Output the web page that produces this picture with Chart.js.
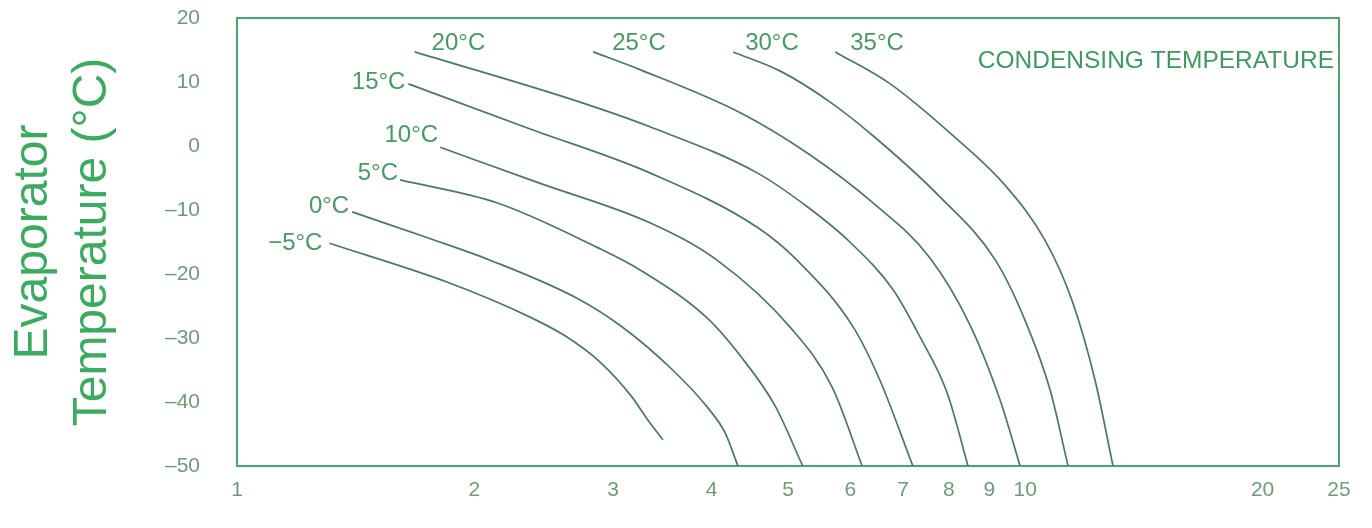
<!DOCTYPE html>
<html>
<head>
<meta charset="utf-8">
<script src="https://cdn.jsdelivr.net/npm/chart.js@4/dist/chart.umd.min.js"></script>
<style>
  html, body { margin: 0; padding: 0; background: #ffffff; }
  #wrap { width: 1372px; height: 528px; position: relative; }
</style>
</head>
<body>
<div id="wrap"><canvas id="chart"></canvas></div>
<script>
// condensing temperature curves: x = ratio (log axis), y = evaporator temperature
const curveNames = ["\u22125\u00b0C", "0\u00b0C", "5\u00b0C", "10\u00b0C", "15\u00b0C", "20\u00b0C", "25\u00b0C", "30\u00b0C", "35\u00b0C"];

const xMinus5 = [1.31, 1.85, 2.35, 2.61, 2.89, 3.16, 3.32, 3.47];
const yMinus5 = [-15.2, -21.3, -26.7, -29.7, -33.8, -39.0, -42.8, -45.9];
const x0 = [1.40, 1.76, 2.09, 2.70, 3.09, 3.57, 3.95, 4.16, 4.32];
const y0 = [-10.3, -14.5, -17.8, -23.8, -28.4, -35.0, -40.8, -44.8, -50];
const x5 = [1.61, 2.14, 2.86, 3.25, 3.95, 4.37, 4.81, 5.22];
const y5 = [-5.3, -8.9, -15.8, -19.4, -26.9, -33.1, -40.5, -50];
const x10 = [1.81, 2.42, 3.34, 4.06, 5.03, 5.69, 6.21];
const y10 = [-0.2, -5.8, -12.0, -17.8, -28.3, -37.7, -50];
const x15 = [1.65, 2.35, 3.34, 4.57, 5.13, 6.05, 6.54, 7.20];
const y15 = [9.7, 2.7, -4.2, -12.7, -17.8, -28.3, -36.6, -50];
const x20 = [1.68, 2.67, 3.34, 4.57, 5.29, 5.99, 6.80, 7.35, 7.96, 8.46];
const y20 = [14.7, 7.2, 3.0, -4.2, -9.5, -15.0, -22.5, -29.8, -38.6, -50];
const x25 = [2.83, 3.25, 4.35, 5.29, 6.41, 7.57, 8.51, 9.29, 9.85];
const y25 = [14.7, 11.9, 5.2, -1.1, -8.9, -17.5, -28.0, -39.7, -50];
const x30 = [4.26, 4.89, 5.65, 6.41, 7.80, 9.16, 9.99, 10.75, 11.33];
const y30 = [14.7, 11.7, 6.9, 1.6, -8.0, -17.8, -27.2, -38.1, -50];
const x35 = [5.74, 6.74, 8.03, 9.42, 10.59, 11.46, 12.26, 12.92];
const y35 = [14.7, 9.7, 2.0, -6.1, -14.7, -24.1, -36.6, -50];

const xTicks = [1, 2, 3, 4, 5, 6, 7, 8, 9, 10, 20, 25];
const yTicks = [20, 10, 0, -10, -20, -30, -40, -50];

const curveX = [xMinus5, x0, x5, x10, x15, x20, x25, x30, x35];
const curveY = [yMinus5, y0, y5, y10, y15, y20, y25, y30, y35];

// where each name sits relative to the first point of its curve
const labelPlace = [
  { align: "right", dx: -7, dy: 0 },
  { align: "right", dx: -3, dy: -6 },
  { align: "right", dx: -2, dy: -7 },
  { align: "right", dx: -2, dy: -12 },
  { align: "right", dx: -3, dy: -2 },
  { align: "left", dx: 17, dy: -9 },
  { align: "left", dx: 19, dy: -9 },
  { align: "left", dx: 12, dy: -9 },
  { align: "left", dx: 15, dy: -9 },
];

const FONT = '"Liberation Sans", Arial, sans-serif';
const LINE = "#4a7866";
const GREEN = "#3f9a60";

const datasets = curveNames.map((name, i) => ({
  label: name,
  data: curveX[i].map((x, j) => ({ x: x, y: curveY[i][j] })),
  showLine: true,
  borderColor: LINE,
  borderWidth: 1.7,
  pointRadius: 0,
  cubicInterpolationMode: "monotone",
  fill: false,
}));

const frameAndLabels = {
  id: "frameAndLabels",
  beforeDatasetsDraw(chart) {
    const { ctx, chartArea } = chart;
    ctx.save();
    ctx.strokeStyle = "#4ea46c";
    ctx.lineWidth = 2;
    ctx.strokeRect(chartArea.left, chartArea.top, chartArea.right - chartArea.left, chartArea.bottom - chartArea.top);
    ctx.restore();
  },
  afterDatasetsDraw(chart) {
    const { ctx, chartArea } = chart;
    ctx.save();
    ctx.font = "24px " + FONT;
    ctx.fillStyle = "#479a62";
    ctx.textBaseline = "middle";
    chart.data.datasets.forEach((ds, i) => {
      const p = chart.getDatasetMeta(i).data[0];
      const place = labelPlace[i];
      ctx.textAlign = place.align;
      ctx.fillText(ds.label, p.x + place.dx, p.y + place.dy);
    });
    ctx.font = "24.5px " + FONT;
    ctx.fillStyle = GREEN;
    ctx.textAlign = "right";
    ctx.fillText("CONDENSING TEMPERATURE", chartArea.right - 5, chartArea.top + 43);
    ctx.restore();
  },
};

new Chart(document.getElementById("chart"), {
  type: "scatter",
  data: { datasets: datasets },
  options: {
    responsive: true,
    maintainAspectRatio: false,
    animation: false,
    layout: { padding: { top: 18, right: 33, left: 0, bottom: 0 } },
    plugins: {
      legend: { display: false },
      tooltip: { enabled: false },
    },
    scales: {
      x: {
        type: "logarithmic",
        min: 1,
        max: 25,
        grid: { display: false, drawTicks: false },
        border: { display: false },
        afterBuildTicks: (scale) => {
          scale.ticks = xTicks.map((v) => ({ value: v }));
        },
        afterFit: (scale) => {
          scale.height = 62;
          scale.paddingLeft = 0;
          scale.paddingRight = 0;
        },
        ticks: {
          autoSkip: false,
          maxRotation: 0,
          padding: 12,
          color: "#6d9c78",
          font: { size: 21, family: FONT },
          callback: (v) => String(v),
        },
      },
      y: {
        min: -50,
        max: 20,
        grid: { display: false, drawTicks: false },
        border: { display: false },
        afterBuildTicks: (scale) => {
          scale.ticks = yTicks.map((v) => ({ value: v }));
        },
        afterFit: (scale) => {
          scale.width = 237;
          scale.paddingTop = 0;
          scale.paddingBottom = 0;
        },
        ticks: {
          padding: 37,
          color: "#6d9c78",
          font: { size: 21, family: FONT },
          callback: (v) => (v < 0 ? "\u2013" + Math.abs(v) : String(v)),
        },
        title: {
          display: true,
          text: ["Evaporator", "Temperature (\u00b0C)"],
          color: "#3bab5f",
          font: { size: 48, family: FONT, lineHeight: 1.23 },
          padding: { top: 4, bottom: 0 },
        },
      },
    },
  },
  plugins: [frameAndLabels],
});
</script>
</body>
</html>
